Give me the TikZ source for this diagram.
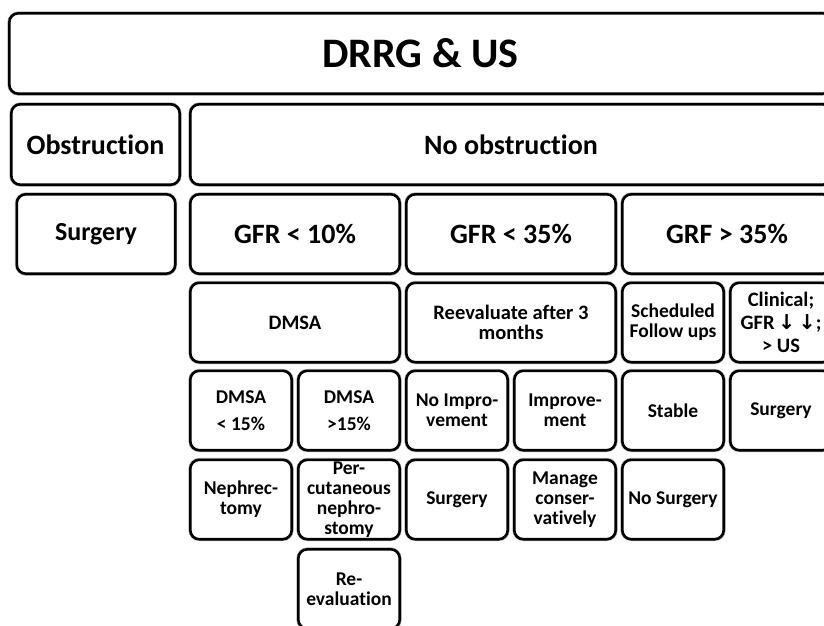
\documentclass[tikz,border=0pt]{standalone}
\usepackage{fontspec}
\setmainfont{Carlito}[Ligatures=CommonOff]
\newfontfamily\arrowfont{DejaVu Sans}
\usetikzlibrary{positioning}
\tikzset{
  cell/.style={draw=black,line width=2.6pt,rounded corners=9pt,fill=white,align=center,inner sep=0pt,
    preaction={draw=black!30,line width=3.8pt}},
  hugetxt/.style={font=\fontsize{42}{44}\selectfont\bfseries},
  headtxt/.style={font=\fontsize{28}{30}\selectfont\bfseries},
  gfrtxt/.style={font=\fontsize{28}{30}\selectfont\bfseries},
  midtxt/.style={font=\fontsize{20.5}{20}\selectfont\bfseries},
  smalltxt/.style={font=\fontsize{19.5}{20}\selectfont\bfseries},
  single/.style={minimum width=101.4pt,minimum height=79.4pt},
  double/.style={minimum width=209.4pt,minimum height=79.4pt}
}

\begin{document}
\begin{tikzpicture}[x=1pt,y=-1pt]
\useasboundingbox (0,0) rectangle (824,625);
\fill[white] (0,0) rectangle (824,625);
\clip (0,0) rectangle (824,625);
% top rows
\node[cell,hugetxt,minimum width=822.4pt,minimum height=80.4pt] (drrg) at (420.5,53.5) {DRRG \& US};
\node[cell,headtxt,minimum width=168.4pt,minimum height=80.4pt] (obst) at (95.5,144.5) {Obstruction};
\node[cell,headtxt,minimum width=641.4pt,minimum height=80.4pt] (noobst) at (511,144.5) {No obstruction};
% GFR row
\node[cell,font=\fontsize{26}{30}\selectfont\bfseries,minimum width=158.4pt,minimum height=79.4pt] (surgobst) at (96,234) {Surgery};
\node[cell,gfrtxt,double] (gfrlow) at (295,234) {GFR < 10\%};
\node[cell,gfrtxt,double] (gfrmid) at (511,234) {GFR < 35\%};
\node[cell,gfrtxt,double] (gfrhigh) at (727,234) {GRF > 35\%};
% next step
\node[cell,midtxt,double] (dmsa) at (295,322.5) {DMSA};
\node[cell,midtxt,double] (reeval) at (511,322.5) {Reevaluate after 3\\months};
\node[cell,smalltxt,single] (sched) at (673,322.5) {Scheduled\\Follow ups};
\node[cell,font=\fontsize{20.5}{23}\selectfont\bfseries,single] (clin) at (781,322.5) {Clinical;\\GFR{\arrowfont\,↓\,↓};\\> US};
% outcome
\node[cell,smalltxt,single] (dmsalow) at (241,410.5) {DMSA\\[7pt]< 15\%};
\node[cell,smalltxt,single] (dmsahigh) at (349,410.5) {DMSA\\[7pt]>15\%};
\node[cell,smalltxt,single] (noimpr) at (457,410.5) {No Impro-\\vement};
\node[cell,smalltxt,single] (impr) at (565,410.5) {Improve-\\ment};
\node[cell,smalltxt,single] (stable) at (673,410.5) {Stable};
\node[cell,smalltxt,single] (surgclin) at (781,410.5) {Surgery};
% treatment
\node[cell,smalltxt,single] (nephrec) at (241,499.5) {Nephrec-\\tomy};
\node[cell,smalltxt,single] (percut) at (349,499.5) {Per-\\cutaneous\\nephro-\\stomy};
\node[cell,smalltxt,single] (surgnoimpr) at (457,499.5) {Surgery};
\node[cell,smalltxt,single] (conserv) at (565,499.5) {Manage\\conser-\\vatively};
\node[cell,smalltxt,single] (nosurg) at (673,499.5) {No Surgery};
\node[cell,smalltxt,single] (reeval2) at (349,589) {Re-\\evaluation};
\end{tikzpicture}
\end{document}
